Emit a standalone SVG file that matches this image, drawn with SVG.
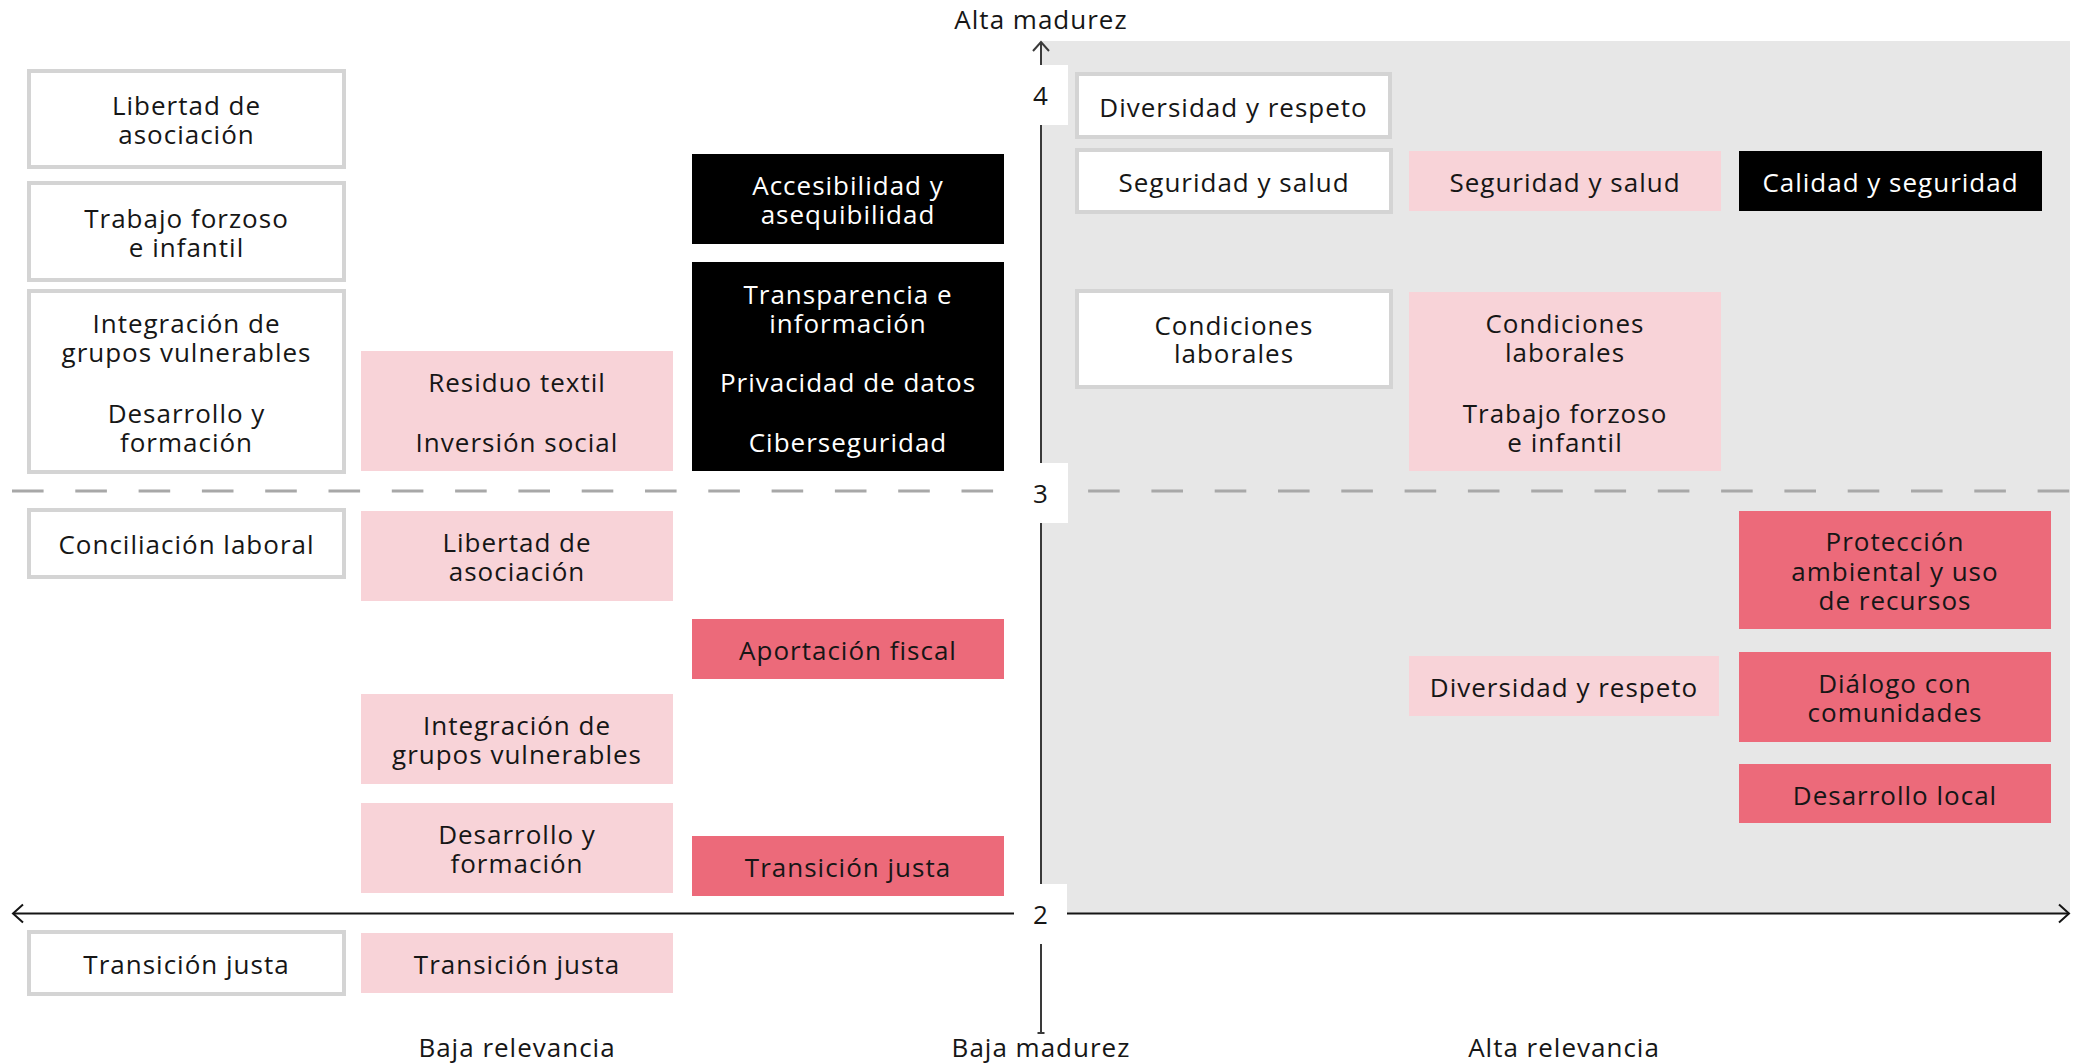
<svg xmlns="http://www.w3.org/2000/svg" width="2081" height="1064" viewBox="0 0 2081 1064">
<style>
text{font-family:"Open Sans","Noto Sans","Liberation Sans",sans-serif;font-size:26px;letter-spacing:1px;text-anchor:middle;fill:#161616}
.w{fill:#ffffff;stroke:#d4d4d4;stroke-width:4}
.p{fill:#f8d3d8}
.k{fill:#000000}
.r{fill:#ec6a7a}
.tw{fill:#ffffff}
.ax{stroke:#3a3a3a;stroke-width:2;fill:none}
.axh{stroke:#151515;stroke-width:2;fill:none}
.dash{stroke:#a8a8a8;stroke-width:3;stroke-dasharray:31.6 31.7;fill:none}
.patch{fill:#ffffff}
</style>
<rect id="quadrant" x="1041" y="41" width="1029" height="872" fill="#e7e7e7"/>
<g id="connectors">
  <line class="dash" x1="12" y1="491" x2="2070" y2="491"/>
  <line class="axh" x1="13" y1="913.5" x2="1014" y2="913.5"/>
  <line class="axh" x1="1067" y1="913.5" x2="2069" y2="913.5"/>
  <polyline class="axh" points="23,904.5 13,913.5 23,922.5"/>
  <polyline class="axh" points="2059,904.5 2069,913.5 2059,922.5"/>
  <line class="ax" x1="1041" y1="42" x2="1041" y2="65"/>
  <polyline class="ax" points="1033,51 1041,42 1049,51"/>
  <line class="ax" x1="1041" y1="125" x2="1041" y2="463"/>
  <line class="ax" x1="1041" y1="523" x2="1041" y2="884"/>
  <line class="ax" x1="1041" y1="944" x2="1041" y2="1033"/>
  <line class="ax" x1="1037.5" y1="1033" x2="1044.5" y2="1033"/>
  <rect class="patch" x="1014" y="65" width="54" height="60"/>
  <rect class="patch" x="1014" y="463" width="54" height="60"/>
  <rect class="patch" x="1014" y="884" width="53" height="29"/>
</g>
<g id="axis-labels">
  <text x="1041" y="29">Alta madurez</text>
  <text x="1041" y="105">4</text>
  <text x="1041" y="503">3</text>
  <text x="1041" y="924">2</text>
  <text x="517" y="1057">Baja relevancia</text>
  <text x="1041" y="1057">Baja madurez</text>
  <text x="1564" y="1057">Alta relevancia</text>
</g>
<g id="a1"><rect class="w" x="29" y="71" width="315" height="96"/><text><tspan x="186.5" y="115">Libertad de</tspan><tspan x="186.5" dy="29">asociación</tspan></text></g>
<g id="a2"><rect class="w" x="29" y="183" width="315" height="97"/><text><tspan x="186.5" y="228">Trabajo forzoso</tspan><tspan x="186.5" dy="29">e infantil</tspan></text></g>
<g id="a3"><rect class="w" x="29" y="291" width="315" height="181"/><text><tspan x="186.5" y="333">Integración de</tspan><tspan x="186.5" dy="29">grupos vulnerables</tspan><tspan x="186.5" dy="61">Desarrollo y</tspan><tspan x="186.5" dy="29">formación</tspan></text></g>
<g id="a4"><rect class="w" x="29" y="510" width="315" height="67"/><text x="186.5" y="554">Conciliación laboral</text></g>
<g id="a5"><rect class="w" x="29" y="932" width="315" height="62"/><text x="186.5" y="974">Transición justa</text></g>
<g id="b1"><rect class="p" x="361" y="351" width="312" height="120"/><text><tspan x="517" y="392">Residuo textil</tspan><tspan x="517" dy="60">Inversión social</tspan></text></g>
<g id="b2"><rect class="p" x="361" y="511" width="312" height="90"/><text><tspan x="517" y="552">Libertad de</tspan><tspan x="517" dy="29">asociación</tspan></text></g>
<g id="b3"><rect class="p" x="361" y="694" width="312" height="90"/><text><tspan x="517" y="735">Integración de</tspan><tspan x="517" dy="29">grupos vulnerables</tspan></text></g>
<g id="b4"><rect class="p" x="361" y="803" width="312" height="90"/><text><tspan x="517" y="844">Desarrollo y</tspan><tspan x="517" dy="29">formación</tspan></text></g>
<g id="b5"><rect class="p" x="361" y="933" width="312" height="60"/><text x="517" y="974">Transición justa</text></g>
<g id="c1"><rect class="k" x="692" y="154" width="312" height="90"/><text class="tw"><tspan x="848" y="195">Accesibilidad y</tspan><tspan x="848" dy="29">asequibilidad</tspan></text></g>
<g id="c2"><rect class="k" x="692" y="262" width="312" height="209"/><text class="tw"><tspan x="848" y="304">Transparencia e</tspan><tspan x="848" dy="29">información</tspan><tspan x="848" dy="59">Privacidad de datos</tspan><tspan x="848" dy="60">Ciberseguridad</tspan></text></g>
<g id="c3"><rect class="r" x="692" y="619" width="312" height="60"/><text x="848" y="660">Aportación fiscal</text></g>
<g id="c4"><rect class="r" x="692" y="836" width="312" height="60"/><text x="848" y="877">Transición justa</text></g>
<g id="d1"><rect class="w" x="1077" y="74" width="313" height="63"/><text x="1233.5" y="117">Diversidad y respeto</text></g>
<g id="d2"><rect class="w" x="1077" y="150" width="314" height="62"/><text x="1234" y="192">Seguridad y salud</text></g>
<g id="d3"><rect class="w" x="1077" y="291" width="314" height="96"/><text><tspan x="1234" y="335">Condiciones</tspan><tspan x="1234" dy="28">laborales</tspan></text></g>
<g id="e1"><rect class="p" x="1409" y="151" width="312" height="60"/><text x="1565" y="192">Seguridad y salud</text></g>
<g id="e2"><rect class="p" x="1409" y="292" width="312" height="179"/><text><tspan x="1565" y="333">Condiciones</tspan><tspan x="1565" dy="29">laborales</tspan><tspan x="1565" dy="61">Trabajo forzoso</tspan><tspan x="1565" dy="29">e infantil</tspan></text></g>
<g id="e3"><rect class="p" x="1409" y="656" width="310" height="60"/><text x="1564" y="697">Diversidad y respeto</text></g>
<g id="f1"><rect class="k" x="1739" y="151" width="303" height="60"/><text class="tw" x="1890.5" y="192">Calidad y seguridad</text></g>
<g id="f2"><rect class="r" x="1739" y="511" width="312" height="118"/><text><tspan x="1895" y="551">Protección</tspan><tspan x="1895" dy="30">ambiental y uso</tspan><tspan x="1895" dy="29">de recursos</tspan></text></g>
<g id="f3"><rect class="r" x="1739" y="652" width="312" height="90"/><text><tspan x="1895" y="693">Diálogo con</tspan><tspan x="1895" dy="29">comunidades</tspan></text></g>
<g id="f4"><rect class="r" x="1739" y="764" width="312" height="59"/><text x="1895" y="805">Desarrollo local</text></g>
</svg>
